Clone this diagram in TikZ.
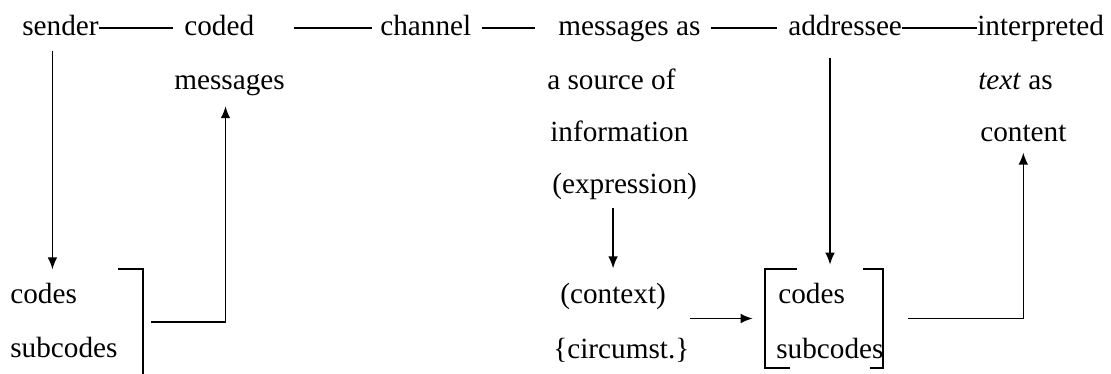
\documentclass[tikz,border=0pt]{standalone}
\usepackage{fontspec}
\setmainfont{Liberation Serif}
\usetikzlibrary{arrows.meta}

\begin{document}
\begin{tikzpicture}[x=0.025cm,y=-0.025cm,
    every node/.style={font=\fontsize{20.8}{25}\selectfont,inner sep=0pt,anchor=base west},
    link/.style={line width=1pt},
    arr/.style={line width=1.1pt,-{Latex[length=0.3cm,width=0.24cm]}},
    brk/.style={line width=1.2pt}]
      \useasboundingbox (0,0) rectangle (1111,374);

      \node (sender) at (22,36) {sender};
      \node (coded) at (184,36) {coded};
      \node (channel) at (380,36) {channel};
      \node (msgas) at (558,36) {messages as};
      \node (addressee) at (788,36) {addressee};
      \node (interpreted) at (977,36) {interpreted};

      \node (messages) at (174,90) {messages};
      \node (source) at (547,90) {a source of};
      \node (textas) at (978,90) {\textit{text} as};
      \node (information) at (550,141) {information};
      \node (content) at (980,141) {content};
      \node (expression) at (552,193) {(expression)};

      \node (codesL) at (10,303) {codes};
      \node (subcodesL) at (10,357) {subcodes};
      \node (context) at (560,303) {(context)};
      \node (circumst) at (553,358) {\{circumst.\}};
      \node (codesR) at (778,303) {codes};
      \node (subcodesR) at (776,358) {subcodes};
      \node (codebox) [anchor=center,minimum width=2.95cm,minimum height=2.475cm] at (824,318.5) {};

      \draw [link,shorten >=0.275cm] ([yshift=0.2cm]sender.base east) to ([yshift=0.2cm]coded.base west);
      \draw [link,shorten <=1cm,shorten >=0.2cm] ([yshift=0.2cm]coded.base east) to ([yshift=0.2cm]channel.base west);
      \draw [link,shorten <=0.25cm,shorten >=0.575cm] ([yshift=0.2cm]channel.base east) to ([yshift=0.2cm]msgas.base west);
      \draw [link,shorten <=0.25cm,shorten >=0.275cm] ([yshift=0.2cm]msgas.base east) to ([yshift=0.2cm]addressee.base west);
      \draw [link] ([yshift=0.2cm]addressee.base east) to ([yshift=0.2cm]interpreted.base west);

      \draw [arr,shorten <=0.35cm,shorten >=0.325cm] ([xshift=-0.2cm]sender.south) to ([xshift=-0.2cm]sender.south |- codesL.north);
      \draw [brk] (118,269) -| (143,374);
      \coordinate (outL) at (151,322);
      \draw [arr,shorten >=0.24cm] (outL) -| ([xshift=-0.1cm]messages.south);

      \draw [arr,shorten <=0.2cm,shorten >=0.35cm] (context.north |- expression.south) to (context.north);
      \draw [arr,shorten >=0.3cm] (circumst.east |- codebox.west) to (codebox.west);
      \draw [arr,shorten <=0.525cm,shorten >=0.1cm] ([xshift=0.15cm]codebox.north |- addressee.south) to ([xshift=0.15cm]codebox.north);

      \draw [brk] ([xshift=0.8cm]codebox.north west) -- (codebox.north west) -- (codebox.south west) -- ([xshift=0.625cm]codebox.south west);
      \draw [brk] ([xshift=-0.5cm]codebox.north east) -- (codebox.north east) -- (codebox.south east) -- ([xshift=-0.325cm]codebox.south east);

      \draw [arr,shorten <=0.625cm,shorten >=0.275cm] (codebox.east) -| (content.south);

    \end{tikzpicture}
\end{document}
